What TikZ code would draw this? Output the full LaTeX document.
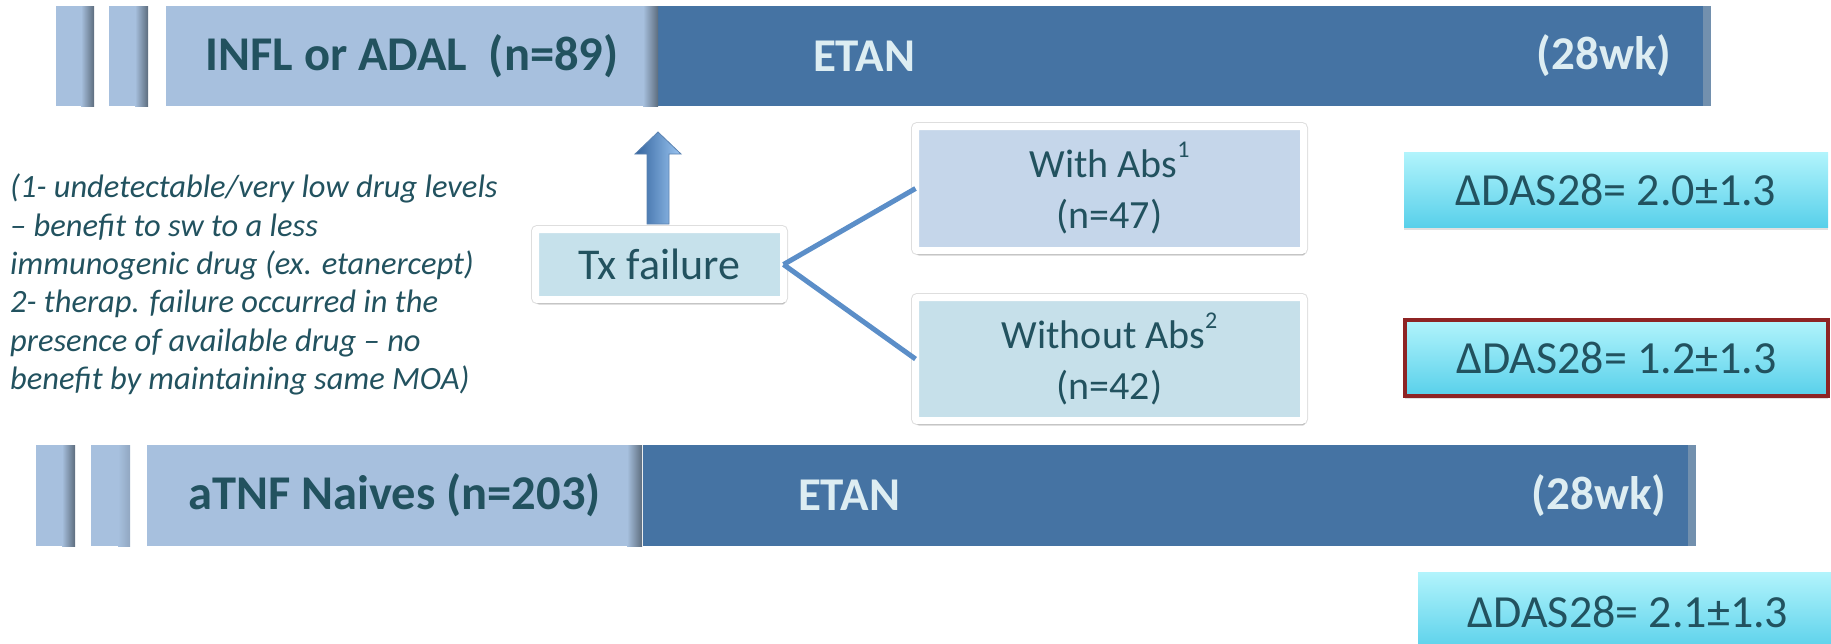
\documentclass[tikz,border=0pt]{standalone}
\usepackage{fontspec}
\setmainfont{Carlito}
\usetikzlibrary{shadows}
\definecolor{barlight}{HTML}{A7C0DE}
\definecolor{bardark}{HTML}{4573A3}
\definecolor{edgegray}{HTML}{5D6D7E}
\definecolor{edgeblue}{HTML}{7290AE}
\definecolor{tealtext}{HTML}{22525F}
\definecolor{palet}{HTML}{DDEDF2}
\definecolor{txfill}{HTML}{C6E1EB}
\definecolor{withfill}{HTML}{C5D6EA}
\definecolor{wofill}{HTML}{C6E0EA}
\definecolor{cyantop}{HTML}{B2F4FC}
\definecolor{cyanbot}{HTML}{58D0EA}
\definecolor{linkblue}{HTML}{5B8EC8}
\definecolor{redframe}{HTML}{8E2424}
\definecolor{arrowdark}{HTML}{33649E}
\definecolor{arrowlight}{HTML}{9CC6F2}
\newcommand{\supnum}[1]{\raisebox{0.5em}{\fontsize{24}{24}\selectfont #1}}
\begin{document}
\begin{tikzpicture}[x=1pt,y=-1pt,
  barbase/.style={draw=none, inner sep=0pt, outer sep=0pt, minimum height=100pt},
  lightbar/.style={barbase, fill=barlight, text=tealtext, font=\fontsize{48.5}{56}\selectfont\bfseries},
  darkbar/.style={barbase, fill=bardark},
  barlabel/.style={inner sep=0pt, text=palet, font=\fontsize{47}{56}\selectfont\bfseries},
  framebox/.style={draw=white, line width=7pt, inner sep=0pt, outer sep=0pt, rounded corners=2pt,
    preaction={draw=black!13, line width=9pt},
    text=tealtext, align=center, font=\fontsize{40}{51}\selectfont,
    drop shadow={shadow xshift=1.5pt, shadow yshift=-5pt, opacity=0.3, fill=black!55}},
  deltabox/.style={inner sep=0pt, outer sep=0pt, minimum width=424pt, minimum height=75pt,
    top color=cyantop, bottom color=cyanbot, text=tealtext, font=\fontsize{46}{52}\selectfont,
    drop shadow={shadow xshift=0pt, shadow yshift=-3pt, opacity=0.2, fill=black!60}},
  link/.style={draw=linkblue, line width=5pt},
  edgeshade/.style={left color=barlight, right color=edgegray},
  note/.style={inner sep=0pt, align=left, text=tealtext, font=\fontsize{32.5}{38.3}\selectfont\itshape}
]
\useasboundingbox (0,0) rectangle (1831,643);
\clip (0,0) rectangle (1831,643);

% ---- top row ----
\node[lightbar, minimum width=38pt] (t1) at (75,56) {};
\node[lightbar, minimum width=39pt] (t2) at (128.5,56) {};
\node[lightbar, minimum width=492pt] (infl) at (412,56) {INFL or ADAL\ \ (n=89)};
\node[darkbar, minimum width=1053pt] (etanA) at (1184.5,56) {};
\shade[edgeshade] ([xshift=-13pt]t1.north east) rectangle (t1.south east);
\shade[edgeshade] ([xshift=-13pt]t2.north east) rectangle (t2.south east);
\shade[edgeshade] ([xshift=-15pt]infl.north east) rectangle (infl.south east);
\fill[edgeblue] ([xshift=-8pt]etanA.north east) rectangle (etanA.south east);
\node[barlabel] (etanAl) at (864,56) {ETAN};
\node[barlabel] (wkA) at (1604,56) {(28wk)};

% ---- bottom row ----
\node[lightbar, minimum width=39pt, minimum height=101pt] (b1) at (55.5,495.5) {};
\node[lightbar, minimum width=39pt, minimum height=101pt] (b2) at (110.5,495.5) {};
\node[lightbar, minimum width=495pt, minimum height=101pt] (naive) at (394.5,495.5) {aTNF Naives (n=203)};
\node[darkbar, minimum width=1053pt, minimum height=101pt] (etanB) at (1169.5,495.5) {};
\shade[edgeshade] ([xshift=-13pt]b1.north east) rectangle (b1.south east);
\shade[left color=barlight, right color=barlight!70!edgegray] ([xshift=-12pt]b2.north east) rectangle (b2.south east);
\shade[edgeshade] ([xshift=-15pt]naive.north east) rectangle (naive.south east);
\fill[edgeblue] ([xshift=-8pt]etanB.north east) rectangle (etanB.south east);
\node[barlabel] (etanBl) at (849,495.5) {ETAN};
\node[barlabel] (wkB) at (1599,495.5) {(28wk)};

% ---- notes ----
\node[note, anchor=north west] (notes) at (10,174) {(1- undetectable/very low drug levels\\
– benefit to sw to a less\\
immunogenic drug (ex. etanercept)\\
2- therap. failure occurred in the\\
presence of available drug – no\\
benefit by maintaining same MOA)};

% ---- tx failure and branches ----
\node[framebox, fill=txfill, minimum width=248pt, minimum height=70pt, font=\fontsize{44}{51}\selectfont] (tx) at (659.5,264.5) {Tx failure};
\node[framebox, fill=withfill, minimum width=388pt, minimum height=124pt] (with) at (1109.5,188.5)
  {With Abs\supnum{1}\\(n=47)};
\node[framebox, fill=wofill, minimum width=388pt, minimum height=123pt] (without) at (1109.5,359)
  {Without Abs\supnum{2}\\(n=42)};
\draw[link] (tx.east) -- (with.west);
\draw[link] (tx.east) -- (without.west);

% block arrow up from Tx failure
\shade[left color=arrowdark, right color=arrowlight, draw=arrowdark!80, line width=0.8pt]
  ([xshift=-12.5pt,yshift=5.5pt]tx.north) -- ([xshift=-12.5pt,yshift=75.5pt]tx.north)
  -- ([xshift=-24.5pt,yshift=75.5pt]tx.north) -- ([xshift=-1.5pt,yshift=97.5pt]tx.north)
  -- ([xshift=21.5pt,yshift=75.5pt]tx.north) -- ([xshift=9.5pt,yshift=75.5pt]tx.north)
  -- ([xshift=9.5pt,yshift=5.5pt]tx.north) -- cycle;

% ---- delta boxes ----
\node[deltabox] (d1) at (1616,189.5) {ΔDAS28= 2.0±1.3};
\node[deltabox, draw=redframe, line width=4pt, minimum width=423pt, minimum height=76pt] (d2) at (1616.5,358) {ΔDAS28= 1.2±1.3};
\node[deltabox, minimum width=420pt, minimum height=80pt] (d3) at (1628,612) {ΔDAS28= 2.1±1.3};
\end{tikzpicture}
\end{document}
